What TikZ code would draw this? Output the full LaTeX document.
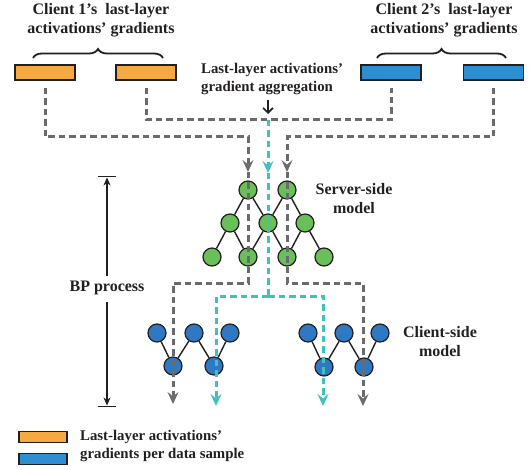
\documentclass[tikz,border=0pt]{standalone}
\usepackage{fontspec}
\setmainfont{Liberation Serif}
\usetikzlibrary{arrows.meta,decorations.pathreplacing}
\definecolor{orangeF}{HTML}{F7A941}
\definecolor{blueF}{HTML}{2B8FD1}
\definecolor{greenN}{HTML}{6BBF59}
\definecolor{blueN}{HTML}{2F78C2}
\definecolor{grayD}{HTML}{6A6B6E}
\definecolor{cyanD}{HTML}{3FC2BE}
\definecolor{ink}{HTML}{231F20}
\begin{document}
\begin{tikzpicture}[x=1pt,y=-1pt,
  font=\bfseries,
  big/.style={font=\fontsize{16}{19}\selectfont\bfseries},
  mid/.style={font=\fontsize{14.8}{17.5}\selectfont\bfseries},
  lbl/.style={text=ink,inner sep=0pt,align=center},
  gbox/.style={draw=ink,line width=1.8pt,minimum width=60pt,minimum height=15pt,inner sep=0pt},
  obox/.style={gbox,fill=orangeF},
  bbox/.style={gbox,fill=blueF},
  lgbox/.style={draw=ink,line width=1.5pt,minimum width=48pt,minimum height=11pt,inner sep=0pt},
  gnode/.style={circle,draw=ink,line width=1.2pt,fill=greenN,minimum size=18pt,inner sep=0pt},
  cnode/.style={circle,draw=ink,line width=1.2pt,fill=blueN,minimum size=18pt,inner sep=0pt},
  edge/.style={draw=ink,line width=1.4pt},
  gd/.style={draw=grayD,line width=3pt,dash pattern=on 6.5pt off 4pt},
  cd/.style={draw=cyanD,line width=3pt,dash pattern=on 6.5pt off 4pt},
  gtip/.style={-{Stealth[length=12pt,width=11pt,inset=4.5pt]}},
  brc/.style={draw=ink,line width=1.8pt,decorate,decoration={brace,amplitude=9pt}},
]
\useasboundingbox (0,0) rectangle (529,470);

% top boxes
\node[obox] (o1) at (45,72.5) {};
\node[obox] (o2) at (146,72.5) {};
\node[bbox] (o3) at (391,72.5) {};
\node[bbox] (o4) at (493.5,72.5) {};

% labels
\node[lbl,big] (l1) at (101,20) {Client 1’s\ \ last-layer\\activations’ gradients};
\node[lbl,big] (l2) at (444,20) {Client 2’s\ \ last-layer\\activations’ gradients};
\node[lbl,mid,align=left,anchor=west] (agg) at (201,79) {Last-layer activations’\\gradient aggregation};
\node[lbl,big] (srv) at (354,199) {Server-side\\model};
\node[lbl,big] (cli) at (440,342) {Client-side\\model};
\node[lbl,big] (bp) at (107,288) {BP process};

% braces
\draw[brc] (33,58) -- (163,58);
\draw[brc] (377,58) -- (506,58);

% server nodes
\node[gnode] (s1) at (248,190) {};
\node[gnode] (s2) at (287,190) {};
\node[gnode] (m1) at (230,223) {};
\node[gnode] (m2) at (268,223) {};
\node[gnode] (m3) at (305,223) {};
\node[gnode] (b1) at (212,257) {};
\node[gnode] (b2) at (248,257) {};
\node[gnode] (b3) at (287,257) {};
\node[gnode] (b4) at (324,257) {};
\foreach \a/\b in {s1/m1,s1/m2,s2/m2,s2/m3,m1/b1,m1/b2,m2/b2,m2/b3,m3/b3,m3/b4}
  \draw[edge] (\a) -- (\b);

% client 1 nodes
\node[cnode] (p1) at (157,333) {};
\node[cnode] (p2) at (194,333) {};
\node[cnode] (p3) at (230,333) {};
\node[cnode] (q1) at (173,366) {};
\node[cnode] (q2) at (214,366) {};
% client 2 nodes
\node[cnode] (r1) at (308,333) {};
\node[cnode] (r2) at (344,333) {};
\node[cnode] (r3) at (380,333) {};
\node[cnode] (t1) at (324,367) {};
\node[cnode] (t2) at (364,367) {};
\foreach \a/\b in {p1/q1,p2/q1,p2/q2,p3/q2,r1/t1,r2/t1,r2/t2,r3/t2}
  \draw[edge] (\a) -- (\b);

% coordinates
\coordinate (hub) at (268,120);
\coordinate (tA) at (248,172);
\coordinate (tB) at (287,172);
\coordinate (tC) at (268,173);
\coordinate (jC) at (268,296);
\coordinate (e1) at (173,404);
\coordinate (e2) at (216,406);
\coordinate (e3) at (323,406);
\coordinate (e4) at (363,406);

% gray dashed paths from boxes
\draw[gd,gtip,shorten <=7pt] (o1.south) |- (248,137) -- (tA);
\draw[gd,gtip,shorten <=7pt] (o4.south) |- (287,137) -- (tB);
\draw[gd,shorten <=7pt,shorten >=7pt] (o2.south) |- (hub) -| (o3.south);

% aggregation arrow
\draw[draw=ink,line width=1.6pt,-{Straight Barb[length=5pt,width=10pt]}] (268,100) -- (268,114);

% cyan path
\draw[cd,gtip] (hub) -- (tC);
\draw[cd] (tC) -- (jC);
\draw[cd,gtip] (jC) -| (e2);
\draw[cd,gtip] (jC) -| (e3);

% gray through server to clients
\draw[gd,gtip] (tA) -- (248,283) -| (e1);
\draw[gd,gtip] (tB) -- (287,283) -| (e4);

% BP arrow
\draw[draw=ink,line width=1.8pt,-{Stealth[length=8pt,width=7pt,inset=2.5pt]}] (107,276) -- (107,177.5);
\draw[draw=ink,line width=1.8pt,-{Stealth[length=8pt,width=7pt,inset=2.5pt]}] (107,302) -- (107,405.5);
\draw[draw=ink,line width=1.8pt] (98,176.5) -- (116,176.5);
\draw[draw=ink,line width=1.8pt] (98,406.5) -- (116,406.5);

% legend
\node[lgbox,fill=orangeF] (lo) at (43,437) {};
\node[lgbox,fill=blueF] (lb) at (43,459) {};
\node[lbl,mid,align=left,anchor=west] (lt) at (80,446) {Last-layer activations’\\gradients per data sample};
\end{tikzpicture}
\end{document}
